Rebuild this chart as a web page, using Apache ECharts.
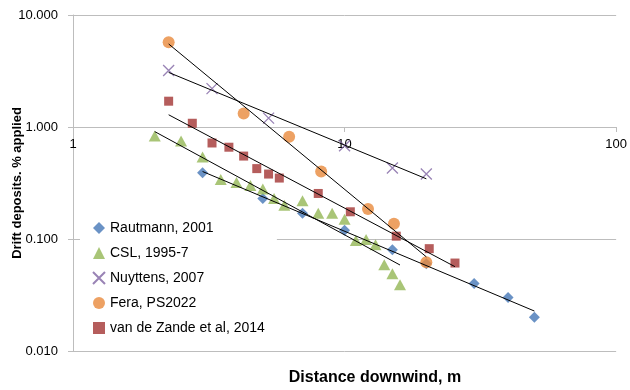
<!DOCTYPE html>
<html>
<head>
<meta charset="utf-8">
<script src="https://cdn.jsdelivr.net/npm/echarts@6/dist/echarts.min.js"></script>
<style>
  html, body { margin: 0; padding: 0; background: #fff; }
  #chart { width: 630px; height: 390px; }
</style>
</head>
<body>
<div id="chart"></div>
<script>
// Drift deposits (% of applied) against downwind distance (m), per study
const xRautmann = [3, 5, 7, 10, 15, 20, 30, 40, 50];
const yRautmann = [0.39, 0.23, 0.17, 0.12, 0.08, 0.06, 0.04, 0.03, 0.02];

const xCSL = [2, 2.5, 3, 3.5, 4, 4.5, 5, 5.5, 6, 7, 8, 9, 10, 11, 12, 13, 14, 15, 16];
const yCSL = [0.83, 0.75, 0.54, 0.34, 0.32, 0.30, 0.28, 0.23, 0.20, 0.22, 0.17, 0.17, 0.15, 0.097, 0.099, 0.089, 0.059, 0.049, 0.039];

const xNuyttens = [2.25, 3.25, 5.25, 10, 15, 20];
const yNuyttens = [3.2, 2.2, 1.2, 0.68, 0.43, 0.38];

const xFera = [2.25, 4.25, 6.25, 8.2, 12.2, 15.2, 20];
const yFera = [5.7, 1.32, 0.82, 0.40, 0.185, 0.137, 0.062];

const xZande = [2.25, 2.75, 3.25, 3.75, 4.25, 4.75, 5.25, 5.75, 8, 10.5, 15.5, 20.5, 25.5];
const yZande = [1.70, 1.08, 0.72, 0.66, 0.55, 0.425, 0.38, 0.35, 0.255, 0.175, 0.106, 0.082, 0.061];

const seriesNames = ['Rautmann, 2001', 'CSL, 1995-7', 'Nuyttens, 2007', 'Fera, PS2022', 'van de Zande et al, 2014'];
const yTicks = [0.01, 0.1, 1, 10];
const xTicks = [1, 10, 100];

const FONT = '"Liberation Sans", Arial, sans-serif';

function pairs(xs, ys) { return xs.map((x, i) => [x, ys[i]]); }

// Least-squares power fit y = a * x^b (straight line in log-log space),
// returned as its two end points over the data's x range.
function powerTrend(xs, ys) {
  const lx = xs.map(Math.log), ly = ys.map(Math.log);
  const n = lx.length;
  const mx = lx.reduce((s, v) => s + v, 0) / n;
  const my = ly.reduce((s, v) => s + v, 0) / n;
  let sxy = 0, sxx = 0;
  for (let i = 0; i < n; i++) { sxy += (lx[i] - mx) * (ly[i] - my); sxx += (lx[i] - mx) ** 2; }
  const b = sxy / sxx, lnA = my - b * mx;
  const x0 = Math.min(...xs), x1 = Math.max(...xs);
  return [[x0, Math.exp(lnA + b * Math.log(x0))], [x1, Math.exp(lnA + b * Math.log(x1))]];
}

const groups = [
  { name: seriesNames[0], xs: xRautmann, ys: yRautmann, symbol: 'diamond', size: 11, style: { color: '#4577B6' } },
  { name: seriesNames[1], xs: xCSL, ys: yCSL, symbol: 'triangle', size: [12, 11], style: { color: '#94B655' } },
  { name: seriesNames[2], xs: xNuyttens, ys: yNuyttens, symbol: 'path://M0,0L10,10M10,0L0,10', size: 11,
    style: { color: 'rgba(0,0,0,0)', borderColor: '#8064A2', borderWidth: 1.3 } },
  { name: seriesNames[3], xs: xFera, ys: yFera, symbol: 'circle', size: 12, style: { color: '#E88A3C' } },
  { name: seriesNames[4], xs: xZande, ys: yZande, symbol: 'rect', size: 9, style: { color: '#A33533' } }
];

const series = [];
groups.forEach(g => {
  series.push({
    name: g.name, type: 'scatter', data: pairs(g.xs, g.ys),
    symbol: g.symbol, symbolSize: g.size, itemStyle: g.style, z: 2
  });
});
groups.forEach(g => {
  series.push({
    name: g.name + ' trend', type: 'line', data: powerTrend(g.xs, g.ys),
    showSymbol: false, silent: true, z: 3,
    lineStyle: { color: '#000', width: 1 }
  });
});

const gridTop = 15, gridHeight = 336;
const chart = echarts.init(document.getElementById('chart'), null, { renderer: 'canvas' });
chart.setOption({
  animation: false,
  backgroundColor: '#fff',
  grid: { left: 73, top: gridTop, width: 546, height: gridHeight, containLabel: false },
  xAxis: {
    type: 'log', logBase: 10, min: xTicks[0], max: xTicks[xTicks.length - 1],
    position: 'bottom',
    // the axis crosses the y axis at 1 (two decades above the bottom of a three-decade scale)
    offset: -gridHeight * 2 / 3,
    axisLine: { show: true, lineStyle: { color: '#BDBDBD', width: 1 } },
    axisTick: { show: true, length: 5, lineStyle: { color: '#BDBDBD' } },
    axisLabel: { margin: 11, color: '#000', fontSize: 13, fontFamily: FONT,
      formatter: v => String(Math.round(v)) },
    splitLine: { show: false }
  },
  yAxis: {
    type: 'log', logBase: 10, min: yTicks[0], max: yTicks[yTicks.length - 1],
    axisLine: { show: true, lineStyle: { color: '#BDBDBD', width: 1 } },
    axisTick: { show: true, length: 5, lineStyle: { color: '#BDBDBD' } },
    axisLabel: { margin: 15, color: '#000', fontSize: 13, fontFamily: FONT,
      formatter: v => Number(v).toFixed(3) },
    splitLine: { show: true, lineStyle: { color: '#BDBDBD', width: 1 } }
  },
  legend: {
    data: seriesNames, orient: 'vertical', left: 80, top: 213,
    padding: [8, 12, 8, 12], backgroundColor: '#fff',
    itemGap: 11, itemWidth: 12, itemHeight: 12,
    textStyle: { fontSize: 14, fontFamily: FONT, color: '#000' }
  },
  graphic: [
    { type: 'text', x: 17, y: 183, rotation: Math.PI / 2,
      style: { text: 'Drift deposits. % applied', font: 'bold 13px ' + FONT, fill: '#000',
        textAlign: 'center', textVerticalAlign: 'middle' } },
    { type: 'text', x: 375, y: 378,
      style: { text: 'Distance downwind, m', font: 'bold 16px ' + FONT, fill: '#000',
        textAlign: 'center', textVerticalAlign: 'middle' } }
  ],
  series: series
});
</script>
</body>
</html>
